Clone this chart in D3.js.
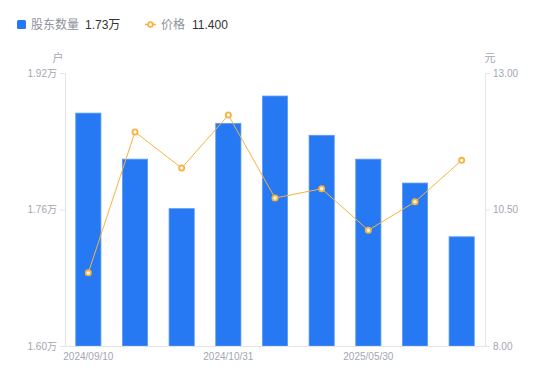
<!DOCTYPE html>
<html><head><meta charset="utf-8">
<script src="https://cdn.jsdelivr.net/npm/d3@7/dist/d3.min.js"></script>
<style>
body{margin:0;background:#fff;font-family:"Liberation Sans","Noto Sans CJK SC",sans-serif;}
</style></head>
<body><svg id="c" width="550" height="381"></svg>
<script>
const categories = ["2024/09/10","2024/09/20","2024/09/30","2024/10/31","2024/12/31","2025/03/31","2025/05/30","2025/06/30","2025/09/30"];
const holders = [1.873, 1.819, 1.761, 1.861, 1.893, 1.847, 1.819, 1.791, 1.728];
const prices = [9.34, 11.92, 11.26, 12.23, 10.71, 10.88, 10.12, 10.64, 11.40];
const leftTicks = [1.60, 1.76, 1.92];
const rightTicks = [8.00, 10.50, 13.00];
const shownLabels = ["2024/09/10","2024/10/31","2025/05/30"];

const svg = d3.select("#c");
const L = 65, R = 485, T = 73, B = 346;
const font = '"Liberation Sans","Noto Sans CJK SC",sans-serif';
const x = d3.scaleBand().domain(categories).range([L, R]).paddingInner(0.46).paddingOuter(0.23);
const yL = d3.scaleLinear().domain([1.60, 1.92]).range([B, T]);
const yR = d3.scaleLinear().domain([8, 13]).range([B, T]);
const axisColor = "#e3e4e8", tickText = "#a3a6b2";

// bars
svg.append("g").selectAll("rect").data(holders).join("rect")
  .attr("x", (d,i)=>x(categories[i])).attr("width", x.bandwidth())
  .attr("y", d=>yL(d)).attr("height", d=>B - yL(d))
  .attr("fill", "#2679f2").attr("stroke", "#5e9cf5").attr("stroke-width", 0.8);

function styleAxis(g){
  g.select(".domain").attr("stroke", axisColor);
  g.selectAll(".tick line").attr("stroke", axisColor);
  g.selectAll(".tick text").attr("fill", tickText).attr("font-size", 10).attr("font-family", font);
}
const gl = svg.append("g").attr("transform", `translate(${L},0)`)
  .call(d3.axisLeft(yL).tickValues(leftTicks).tickSize(5).tickSizeOuter(0).tickPadding(3).tickFormat(d=>d3.format(".2f")(d)+"万"));
styleAxis(gl);
const gr = svg.append("g").attr("transform", `translate(${R},0)`)
  .call(d3.axisRight(yR).tickValues(rightTicks).tickSize(5).tickSizeOuter(0).tickPadding(3).tickFormat(d3.format(".2f")));
styleAxis(gr);
const gb = svg.append("g").attr("transform", `translate(0,${B})`)
  .call(d3.axisBottom(x).tickValues(shownLabels).tickSize(0).tickSizeOuter(0).tickPadding(7));
styleAxis(gb);

// unit labels
svg.append("text").attr("x", 58).attr("y", 62).attr("text-anchor","middle").attr("fill", tickText).attr("font-size", 11).attr("font-family", font).text("户");
svg.append("text").attr("x", 490).attr("y", 62).attr("text-anchor","middle").attr("fill", tickText).attr("font-size", 11).attr("font-family", font).text("元");

// line
const cx = (d,i)=>x(categories[i]) + x.bandwidth()/2;
svg.append("path").datum(prices)
  .attr("d", d3.line().x(cx).y(d=>yR(d)))
  .attr("fill","none").attr("stroke","#f7b33d").attr("stroke-width",1);
svg.append("g").selectAll("circle").data(prices).join("circle")
  .attr("cx", cx).attr("cy", d=>yR(d)).attr("r", 2.6)
  .attr("fill","#fff").attr("stroke","#f7b33d").attr("stroke-width",1.8);

// legend
const lg = svg.append("g").attr("font-family", font).attr("font-size", 12);
lg.append("rect").attr("x",17).attr("y",20).attr("width",9).attr("height",9).attr("rx",1.5).attr("fill","#2679f2");
lg.append("text").attr("x",31).attr("y",29).attr("fill","#8f929c").text("股东数量");
lg.append("text").attr("x",85).attr("y",29).attr("fill","#333").text(d3.format(".2f")(holders[holders.length-1])+"万");
lg.append("line").attr("x1",145).attr("x2",156).attr("y1",24.5).attr("y2",24.5).attr("stroke","#f7b33d").attr("stroke-width",1.5);
lg.append("circle").attr("cx",150.5).attr("cy",24.5).attr("r",2.4).attr("fill","#fff").attr("stroke","#f7b33d").attr("stroke-width",1.6);
lg.append("text").attr("x",161).attr("y",29).attr("fill","#8f929c").text("价格");
lg.append("text").attr("x",192).attr("y",29).attr("fill","#333").text(d3.format(".3f")(prices[prices.length-1]));
</script></body></html>
